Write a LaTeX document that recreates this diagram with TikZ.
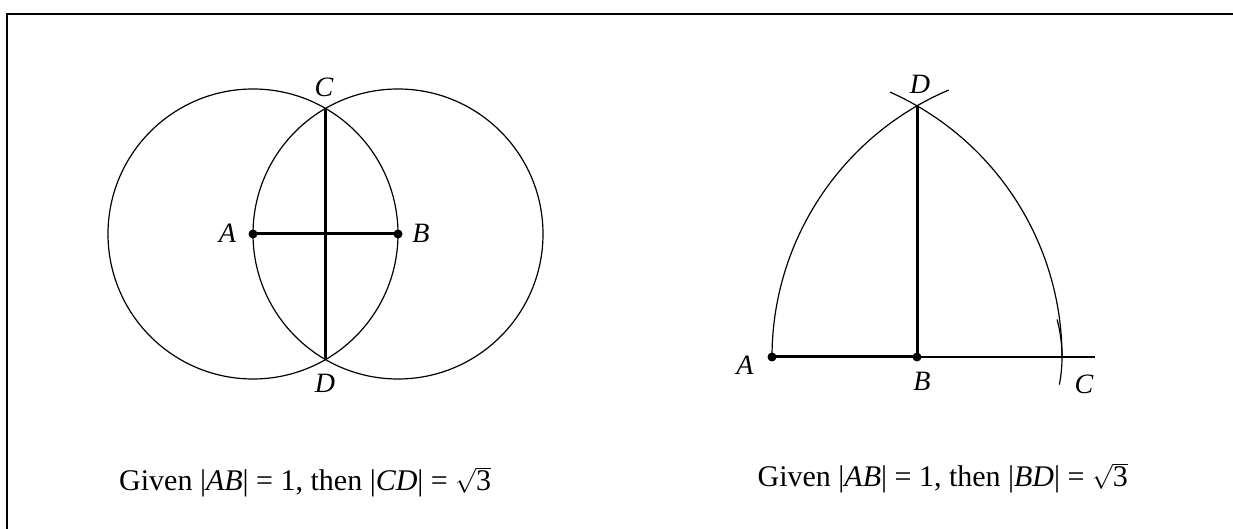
\documentclass[tikz,border=0pt]{standalone}
\usepackage{fontspec}
\setmainfont{Liberation Serif}
\begin{document}
\begin{tikzpicture}[x=1pt,y=1pt,
  thinln/.style={line width=1.2pt},
  thickln/.style={line width=3pt},
  framel/.style={line width=2.5pt},
  lab/.style={font=\fontsize{28}{33}\selectfont\itshape, inner sep=0pt},
  caption/.style={font=\fontsize{30}{36}\selectfont, inner sep=0pt},
  dot/.style={circle, fill=black, inner sep=0pt, minimum size=9pt}]
\useasboundingbox (0,0) rectangle (1233,529);
% frame (top and left edges only)
\coordinate (F1) at (7,0);
\coordinate (F2) at (7,515);
\coordinate (F3) at (1233,515);
\draw[framel] (F1) -- (F2) -- (F3);

% ---------- left figure ----------
\coordinate (A) at (253,295);
\coordinate (B) at (398,295);
\coordinate (C) at (325.5,420.57);
\coordinate (D) at (325.5,169.43);
\draw[thinln] (A) circle[radius=145];
\draw[thinln] (B) circle[radius=145];
\draw[thickln] (A) -- (B);
\draw[thickln] (C) -- (D);
\node[dot] (Ad) at (A) {};
\node[dot] (Bd) at (B) {};
\node[lab] (lA) at (227.5,296) {A};
\node[lab] (lB) at (421,296) {B};
\node[lab] (lC) at (324,442) {C};
\node[lab] (lD) at (325,146) {D};
\node[caption, anchor=base west] (t1) at (119,38) {Given |\textit{AB}| = 1, then |\textit{CD}| = $\sqrt{\mbox{3}}$};

% ---------- right figure ----------
\coordinate (A2) at (772,172);
\coordinate (B2) at (917,172);
\coordinate (C2) at (1062,172);
\coordinate (D2) at (917,423.15);
\coordinate (E2) at (1095,172);
\draw[thinln] (A2) arc[start angle=180, end angle=113, radius=290];
\draw[thinln] ([shift={(66:290)}]A2) arc[start angle=66, end angle=0, radius=290];
\draw[thinln] ([shift={(-11:145)}]B2) arc[start angle=-11, end angle=15, radius=145];
\draw[thinln] (B2) -- (E2);
\draw[thickln] (A2) -- (B2);
\draw[thickln] (B2) -- (D2);
\node[dot] (A2d) at (A2) {};
\node[dot] (B2d) at (B2) {};
\node[lab] (lA2) at (745,164) {A};
\node[lab] (lB2) at (922,148) {B};
\node[lab] (lC2) at (1084,145) {C};
\node[lab] (lD2) at (920,445) {D};
\node[caption, anchor=base east] (t2) at (1128,42) {Given |\textit{AB}| = 1, then |\textit{BD}| = $\sqrt{\mbox{3}}$};
\end{tikzpicture}
\end{document}
